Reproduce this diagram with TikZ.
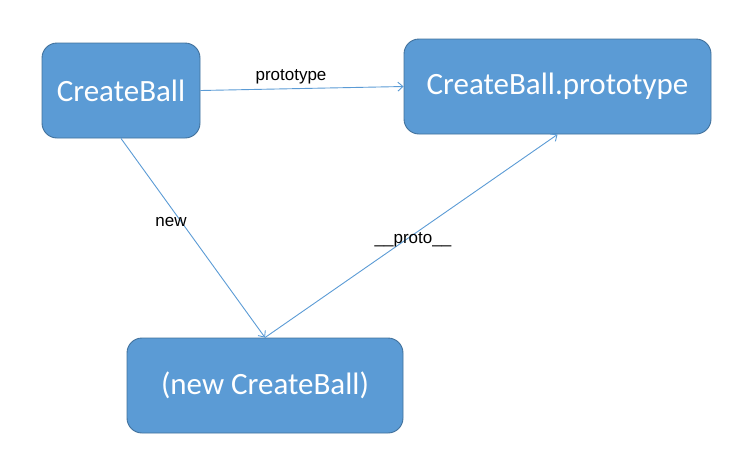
\documentclass[tikz,border=0pt]{standalone}
\usepackage{fontspec}
\setmainfont{Carlito}
\newfontfamily\labelfont{Liberation Sans}
\usetikzlibrary{arrows.meta}
\definecolor{boxfill}{HTML}{5B9BD5}
\definecolor{boxline}{HTML}{41719C}
\definecolor{conn}{HTML}{5B9BD5}
\begin{document}
\begin{tikzpicture}[x=1pt,y=-1pt,
  box/.style={draw=boxline, line width=0.9pt, fill=boxfill, rounded corners=15pt,
    text=white, font=\fontsize{31}{36}\selectfont, inner sep=0pt},
  conn/.style={draw=conn, line width=0.9pt, -{Straight Barb[length=5pt,width=9pt]}},
  lab/.style={font=\labelfont\fontsize{17}{20}\selectfont, text=black, inner sep=1pt}]
\useasboundingbox (0,0) rectangle (748,459);
\node[box, minimum width=158pt, minimum height=95pt] (cb) at (121,90.5) {CreateBall};
\node[box, minimum width=307pt, minimum height=95pt] (pb) at (557.5,86.5) {CreateBall.prototype};
\node[box, minimum width=276pt, minimum height=95pt] (nb) at (265,385.5) {(new CreateBall)};
\draw[conn] (cb.east) -- (pb.west);
\draw[conn] (cb.south) -- (nb.north);
\draw[conn] (nb.north) -- (pb.south);
\node[lab] (l1) at (291,77) {prototype};
\node[lab] (l2) at (171,222) {new};
\node[lab] (l3) at (413,240) {\_\_proto\_\_};
\end{tikzpicture}
\end{document}
